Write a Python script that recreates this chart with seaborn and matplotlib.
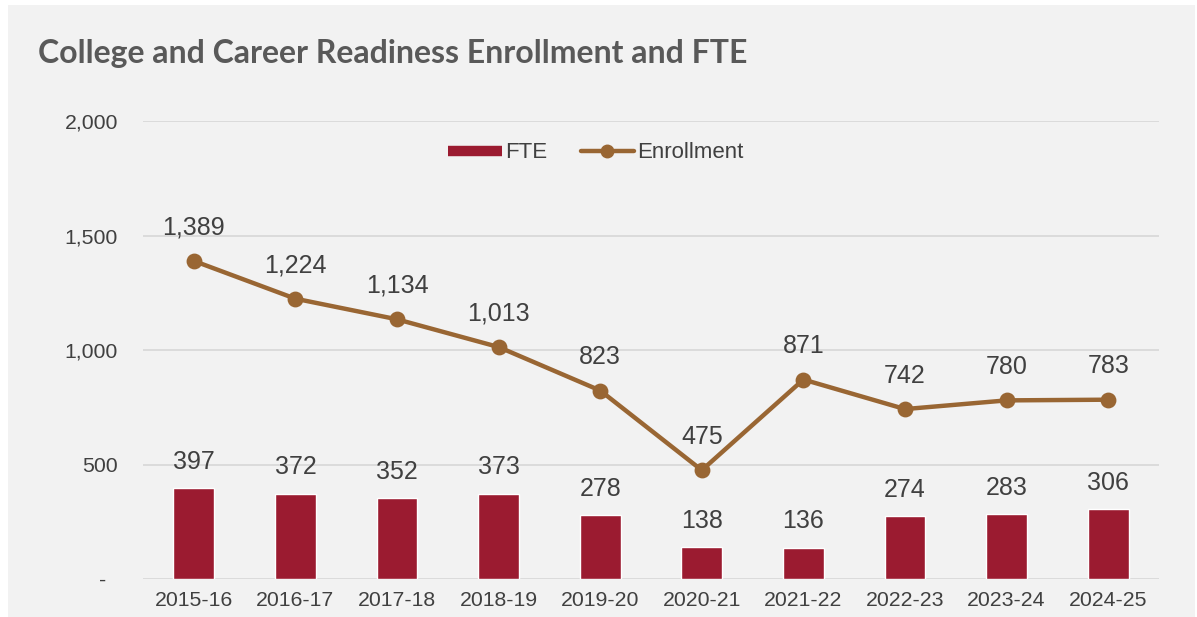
import matplotlib
matplotlib.use("Agg")
import matplotlib.pyplot as plt
import matplotlib.patches as mpatches
from matplotlib.lines import Line2D
from matplotlib.ticker import FuncFormatter
import seaborn as sns

years = ["2015-16", "2016-17", "2017-18", "2018-19", "2019-20",
         "2020-21", "2021-22", "2022-23", "2023-24", "2024-25"]
fte = [397, 372, 352, 373, 278, 138, 136, 274, 283, 306]
enrollment = [1389, 1224, 1134, 1013, 823, 475, 871, 742, 780, 783]

bar_color = "#9b1b30"
line_color = "#996633"
panel = "#f2f2f2"
text_color = "#404040"

sns.set_style("white")
plt.rcParams['font.family'] = ['Liberation Sans', 'DejaVu Sans']

fig = plt.figure(figsize=(11.97, 6.17), dpi=100)
fig.patch.set_facecolor("white")
fig.patches.append(mpatches.Rectangle((8 / 1197, 0), 1187 / 1197, 1 - 5 / 617,
                                      transform=fig.transFigure, facecolor=panel,
                                      edgecolor="none", zorder=-10))
ax = fig.add_axes([143 / 1197, 1 - 579 / 617, 1016 / 1197, 458 / 617])
ax.set_zorder(2)
ax.set_facecolor("none")

sns.barplot(x=years, y=fte, color=bar_color, width=0.4, saturation=1, ax=ax, zorder=3)
sns.pointplot(x=years, y=enrollment, color=line_color, markers="o", markersize=9,
              linewidth=3.2, ax=ax, zorder=4)

# data labels
for i, v in enumerate(fte):
    ax.annotate(f"{v:,}", (i, v), xytext=(0, 19), textcoords="offset points",
                ha="center", va="center", fontsize=18, color=text_color)
for i, v in enumerate(enrollment):
    ax.annotate(f"{v:,}", (i, v), xytext=(0, 24), textcoords="offset points",
                ha="center", va="center", fontsize=18, color=text_color)

ax.set_xlim(-0.5, 9.5)
ax.set_ylim(0, 2000)
ax.set_yticks([0, 500, 1000, 1500, 2000])
ax.yaxis.set_major_formatter(FuncFormatter(lambda v, p: "-  " if v == 0 else f"{v:,.0f}"))
ax.grid(axis="y", color="#d9d9d9", linewidth=1.3, zorder=0)
ax.set_axisbelow(True)
for s in ax.spines.values():
    s.set_visible(False)
ax.tick_params(axis="both", length=0, labelsize=15.3, colors=text_color)
ax.tick_params(axis="y", pad=18)
ax.tick_params(axis="x", pad=9)
ax.set_xlabel("")
ax.set_ylabel("")

fig.text(38 / 1197, 1 - 53 / 617, "College and Career Readiness Enrollment and FTE",
         fontsize=23, fontweight="bold", color="#595959", ha="left", va="center",
         family=["Lato", "DejaVu Sans"])

handles = [Line2D([0], [0], color=bar_color, lw=7.5, solid_capstyle="butt", label="FTE"),
           Line2D([0], [0], color=line_color, lw=3.2, marker="o", markersize=9, label="Enrollment")]
fig.legend(handles=handles, loc="center", bbox_to_anchor=(596 / 1197, 1 - 153 / 617),
           ncol=2, frameon=False, fontsize=16, handlelength=2.4, handletextpad=0.15,
           columnspacing=1.5, labelcolor=text_color)

fig.savefig("out.png", dpi=100, facecolor=fig.get_facecolor())
